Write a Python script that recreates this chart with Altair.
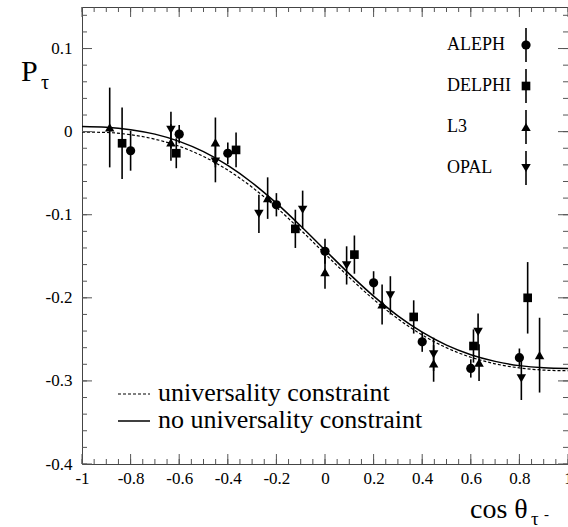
import altair as alt
import pandas as pd
import numpy as np

# ---------------- data ----------------
aleph_x = [-0.80, -0.60, -0.40, -0.20, 0.00, 0.20, 0.40, 0.60, 0.80]
aleph_y = [-0.023, -0.003, -0.026, -0.088, -0.144, -0.182, -0.253, -0.285, -0.272]
aleph_e = [0.024, 0.011, 0.013, 0.014, 0.015, 0.014, 0.012, 0.011, 0.011]

delphi_x = [-0.835, -0.612, -0.366, -0.122, 0.121, 0.365, 0.611, 0.834]
delphi_y = [-0.014, -0.026, -0.022, -0.117, -0.148, -0.223, -0.258, -0.200]
delphi_e = [0.043, 0.018, 0.021, 0.023, 0.023, 0.020, 0.020, 0.043]

l3_x = [-0.886, -0.634, -0.451, -0.236, 0.000, 0.235, 0.447, 0.634, 0.883]
l3_y = [0.005, -0.013, -0.013, -0.080, -0.169, -0.208, -0.279, -0.278, -0.269]
l3_e = [0.048, 0.022, 0.030, 0.025, 0.020, 0.024, 0.022, 0.022, 0.045]

opal_x = [-0.634, -0.451, -0.272, -0.092, 0.089, 0.269, 0.447, 0.630, 0.808]
opal_y = [0.002, -0.036, -0.099, -0.094, -0.161, -0.197, -0.268, -0.241, -0.297]
opal_e = [0.022, 0.025, 0.023, 0.023, 0.023, 0.023, 0.020, 0.022, 0.026]

curve_x = [-1.0, -0.9, -0.8, -0.7, -0.6, -0.5, -0.4, -0.3, -0.2, -0.1, 0.0,
           0.1, 0.2, 0.3, 0.4, 0.5, 0.6, 0.7, 0.8, 0.9, 1.0]
curve_free = [0.0061, 0.0053, 0.0024, -0.0030, -0.0117, -0.0241, -0.0407, -0.0615,
              -0.0861, -0.1136, -0.1425, -0.1712, -0.1980, -0.2217, -0.2414, -0.2570,
              -0.2685, -0.2765, -0.2816, -0.2842, -0.2850]
curve_univ = [-0.0005, -0.0010, -0.0037, -0.0091, -0.0176, -0.0299, -0.0463, -0.0669,
              -0.0912, -0.1184, -0.1470, -0.1754, -0.2019, -0.2252, -0.2447, -0.2601,
              -0.2715, -0.2794, -0.2844, -0.2870, -0.2878]

experiments = ["ALEPH", "DELPHI", "L3", "OPAL"]
shapes = ["circle", "square", "triangle-up", "triangle-down"]
sizes = [85, 75, 90, 90]

x_major = [-1.0, -0.8, -0.6, -0.4, -0.2, 0.0, 0.2, 0.4, 0.6, 0.8, 1.0]
y_major = [-0.4, -0.3, -0.2, -0.1, 0.0, 0.1]
x_minor = [round(v, 2) for v in np.arange(-1.0, 1.0001, 0.05)]
y_minor = [round(v, 2) for v in np.arange(-0.4, 0.1501, 0.02)]

# ---------------- layout / style ----------------
W, H = 486, 457
FONT = "Liberation Serif"
INK = "black"
TICK = "#555555"

xs = alt.Scale(domain=[-1, 1], nice=False, zero=False)
ys = alt.Scale(domain=[-0.4, 0.15], nice=False, zero=False)

X_AX = alt.Axis(values=x_major, title=None, ticks=False, domain=False, grid=False,
                labelFont=FONT, labelFontSize=17, labelColor=INK, labelPadding=6,
                labelFlush=False, labelOverlap=False,
                labelExpr="datum.value == 0 ? '0' : (datum.value < 0 ? '-' : '') + "
                          "(abs(datum.value) == 1 ? '1' : format(abs(datum.value), '.1f'))")
Y_AX = alt.Axis(values=y_major, title=None, ticks=False, domain=False, grid=False,
                labelFont=FONT, labelFontSize=17, labelColor=INK, labelPadding=10,
                labelFlush=False, labelOverlap=False,
                labelExpr="datum.value == 0 ? '0' : (datum.value < 0 ? '-' : '') + "
                          "format(abs(datum.value), '.1f')")

sets = [(aleph_x, aleph_y, aleph_e), (delphi_x, delphi_y, delphi_e),
        (l3_x, l3_y, l3_e), (opal_x, opal_y, opal_e)]

layers = []

# curves
cdf = pd.DataFrame({"x": curve_x, "free": curve_free, "univ": curve_univ})
layers.append(alt.Chart(cdf).mark_line(color=INK, strokeWidth=1.2, strokeDash=[3, 2],
                                       interpolate="monotone").encode(
    x=alt.X("x:Q", scale=xs, axis=X_AX), y=alt.Y("univ:Q", scale=ys, axis=Y_AX)))
layers.append(alt.Chart(cdf).mark_line(color=INK, strokeWidth=1.5,
                                       interpolate="monotone").encode(
    x=alt.X("x:Q", scale=xs, axis=X_AX), y=alt.Y("free:Q", scale=ys, axis=Y_AX)))

# data points with error bars
for name, shp, sz, (xv, yv, ev) in zip(experiments, shapes, sizes, sets):
    df = pd.DataFrame({"x": xv, "y": yv, "e": ev})
    df["lo"] = df["y"] - df["e"]
    df["hi"] = df["y"] + df["e"]
    layers.append(alt.Chart(df).mark_rule(color=INK, strokeWidth=1.6).encode(
        x=alt.X("x:Q", scale=xs, axis=X_AX), y=alt.Y("lo:Q", scale=ys, axis=Y_AX), y2="hi:Q"))
    layers.append(alt.Chart(df).mark_point(shape=shp, filled=True, opacity=1, size=sz,
                                           color=INK).encode(
        x=alt.X("x:Q", scale=xs, axis=X_AX), y=alt.Y("y:Q", scale=ys, axis=Y_AX)))

# inward ticks on all four sides
def yticks(vals, length):
    d = pd.DataFrame({"t": vals})
    left = alt.Chart(d).mark_rule(color=TICK, strokeWidth=1).encode(
        y=alt.Y("t:Q", scale=ys, axis=Y_AX), x=alt.value(0), x2=alt.value(length))
    right = alt.Chart(d).mark_rule(color=TICK, strokeWidth=1).encode(
        y=alt.Y("t:Q", scale=ys, axis=Y_AX), x=alt.value(W - length), x2=alt.value(W))
    return [left, right]

def xticks(vals, length):
    d = pd.DataFrame({"t": vals})
    bottom = alt.Chart(d).mark_rule(color=TICK, strokeWidth=1).encode(
        x=alt.X("t:Q", scale=xs, axis=X_AX), y=alt.value(H - length), y2=alt.value(H))
    top = alt.Chart(d).mark_rule(color=TICK, strokeWidth=1).encode(
        x=alt.X("t:Q", scale=xs, axis=X_AX), y=alt.value(0), y2=alt.value(length))
    return [bottom, top]

layers += yticks(y_minor, 5) + yticks(y_major, 10)
layers += xticks(x_minor, 5) + xticks(x_major, 10)

one = pd.DataFrame({"k": [0]})

# experiment legend (top right)
for i, (name, shp, sz) in enumerate(zip(experiments, shapes, sizes)):
    yy = 38 + i * 41
    layers.append(alt.Chart(one).mark_text(text=name, align="left", baseline="middle",
                                           font=FONT, fontSize=18, color=INK).encode(
        x=alt.value(365), y=alt.value(yy)))
    layers.append(alt.Chart(one).mark_rule(color=INK, strokeWidth=1.6).encode(
        x=alt.value(444), y=alt.value(yy - 17), y2=alt.value(yy + 17)))
    layers.append(alt.Chart(one).mark_point(shape=shp, filled=True, opacity=1, size=sz,
                                            color=INK).encode(
        x=alt.value(444), y=alt.value(yy)))

# curve legend (bottom left)
layers.append(alt.Chart(one).mark_rule(color=INK, strokeWidth=1.2, strokeDash=[3, 2]).encode(
    x=alt.value(36), x2=alt.value(68), y=alt.value(387)))
layers.append(alt.Chart(one).mark_rule(color=INK, strokeWidth=1.5).encode(
    x=alt.value(36), x2=alt.value(68), y=alt.value(414)))
layers.append(alt.Chart(one).mark_text(text="universality constraint", align="left",
                                       baseline="middle", font=FONT, fontSize=26,
                                       color=INK).encode(x=alt.value(76), y=alt.value(386)))
layers.append(alt.Chart(one).mark_text(text="no universality constraint", align="left",
                                       baseline="middle", font=FONT, fontSize=26,
                                       color=INK).encode(x=alt.value(76), y=alt.value(413)))

# axis titles
def txt(s, x, y, size):
    return alt.Chart(one).mark_text(text=s, align="left", baseline="alphabetic",
                                    font=FONT, fontSize=size, color=INK).encode(
        x=alt.value(x), y=alt.value(y))

layers += [txt("P", -61, 74, 30), txt("τ", -41, 82, 20),
           txt("cos θ", 388, 511, 28), txt("τ", 449, 518, 19), txt("-", 462, 512, 15)]

chart = alt.layer(*layers).properties(
    width=W, height=H,
    autosize=alt.AutoSizeParams(type="none"),
    padding={"left": 82, "top": 7, "right": 0, "bottom": 63},
).configure_view(stroke="#444444", strokeWidth=1)

chart.save("out.html", embed_options={"renderer": "svg", "actions": False})
